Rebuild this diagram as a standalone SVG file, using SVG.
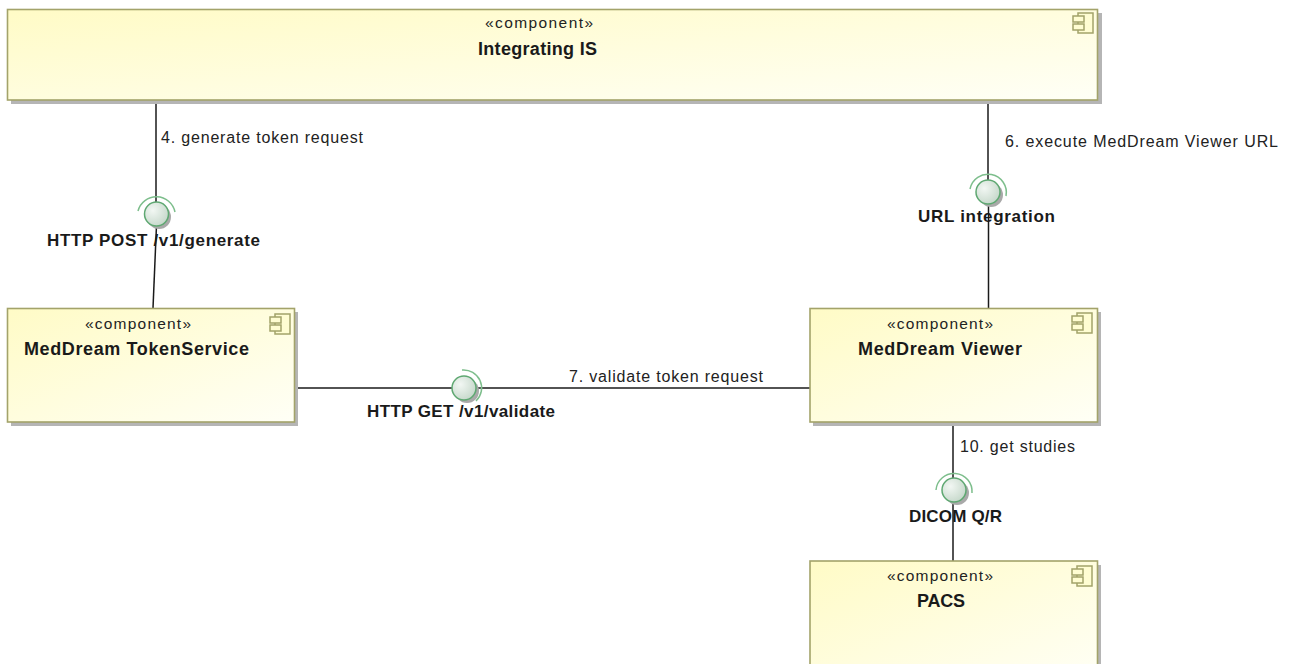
<svg xmlns="http://www.w3.org/2000/svg" xmlns:xlink="http://www.w3.org/1999/xlink" width="1294" height="664" viewBox="0 0 1294 664">
<defs>
  <linearGradient id="boxFill" x1="0" y1="0" x2="1" y2="1">
    <stop offset="0" stop-color="#FFFBC6"/>
    <stop offset="1" stop-color="#FFFFF6"/>
  </linearGradient>
  <radialGradient id="ballFill" cx="0.35" cy="0.35" r="0.75">
    <stop offset="0" stop-color="#F2F7F3"/>
    <stop offset="1" stop-color="#C3D6C8"/>
  </radialGradient>
  <g id="compIcon">
    <rect x="5" y="0" width="15" height="20" fill="#FFFDD2" stroke="#A3A36A" stroke-width="1.5"/>
    <rect x="0" y="3" width="11" height="6" fill="#FFFDD2" stroke="#A3A36A" stroke-width="1.5"/>
    <rect x="0" y="11" width="11" height="6" fill="#FFFDD2" stroke="#A3A36A" stroke-width="1.5"/>
  </g>
  <style>
    .shadow { fill: #B5B5B5; }
    .box { fill: url(#boxFill); stroke: #A3A36A; stroke-width: 1.6; }
    .stereo { font-family: "Liberation Sans", Arial, sans-serif; font-size: 15.5px; fill: #222; }
    .name { font-family: "Liberation Sans", Arial, sans-serif; font-size: 18px; font-weight: bold; fill: #1a1a1a; }
    .lbl { font-family: "Liberation Sans", Arial, sans-serif; font-size: 16px; fill: #222; }
    .blbl { font-family: "Liberation Sans", Arial, sans-serif; font-size: 17px; font-weight: bold; fill: #1a1a1a; }
    .conn { stroke: #1a1a1a; stroke-width: 1.5; fill: none; }
    .ballShadow { fill: #A9A9A9; }
    .ball { fill: url(#ballFill); stroke: #5FA872; stroke-width: 1.5; }
    .socket { fill: none; stroke: #7DBE8C; stroke-width: 1.5; }
  </style>
</defs>
<rect x="0" y="0" width="1294" height="664" fill="#FFFFFF"/>

<g id="connectors">
  <line class="conn" x1="156" y1="100" x2="156" y2="202"/>
  <line class="conn" x1="156.5" y1="225" x2="153" y2="308"/>
  <line class="conn" x1="988" y1="100" x2="988" y2="180"/>
  <line class="conn" x1="988.5" y1="203" x2="988.5" y2="308"/>
  <line class="conn" x1="294" y1="388" x2="452" y2="388"/>
  <line class="conn" x1="476" y1="388" x2="810" y2="388"/>
  <line class="conn" x1="953" y1="422" x2="953" y2="478"/>
  <line class="conn" x1="953" y1="502" x2="953" y2="561"/>
  <text class="lbl" x="161" y="143" textLength="202" lengthAdjust="spacing">4. generate token request</text>
  <text class="lbl" x="1005" y="147" textLength="273" lengthAdjust="spacing">6. execute MedDream Viewer URL</text>
  <text class="lbl" x="569" y="382" textLength="194" lengthAdjust="spacing">7. validate token request</text>
  <text class="lbl" x="960" y="452" textLength="115" lengthAdjust="spacing">10. get studies</text>
</g>

<g id="iface-http-post">
  <circle class="ballShadow" cx="159" cy="217" r="12"/>
  <circle class="ball" cx="156.5" cy="214" r="12"/>
  <path class="socket" d="M 138 211 A 19 19 0 0 1 175 212"/>
  <text class="blbl" x="47" y="246" textLength="213" lengthAdjust="spacing">HTTP POST /v1/generate</text>
</g>

<g id="iface-url">
  <circle class="ballShadow" cx="991" cy="195" r="12"/>
  <circle class="ball" cx="988" cy="192" r="12"/>
  <path class="socket" d="M 970 189 A 18 18 0 0 1 1006 196"/>
  <text class="blbl" x="918" y="222" textLength="137" lengthAdjust="spacing">URL integration</text>
</g>

<g id="iface-http-get">
  <circle class="ballShadow" cx="467" cy="391" r="12"/>
  <circle class="ball" cx="464" cy="388" r="12"/>
  <path class="socket" d="M 462 370 A 18 18 0 0 1 476 401"/>
  <text class="blbl" x="367" y="417" textLength="188" lengthAdjust="spacing">HTTP GET /v1/validate</text>
</g>

<g id="iface-dicom">
  <circle class="ballShadow" cx="957" cy="493" r="12"/>
  <circle class="ball" cx="954" cy="490" r="12"/>
  <path class="socket" d="M 936 490 A 18 18 0 0 1 972 493"/>
  <text class="blbl" x="909" y="522" textLength="93" lengthAdjust="spacing">DICOM Q/R</text>
</g>

<g id="node-integrating-is">
  <rect class="shadow" x="11" y="13" width="1091" height="91"/>
  <rect class="box" x="7.5" y="9.5" width="1090" height="90.5"/>
  <use xlink:href="#compIcon" x="1073" y="13"/>
  <text class="stereo" x="485" y="28" textLength="108" lengthAdjust="spacing">«component»</text>
  <text class="name" x="478" y="55" textLength="119" lengthAdjust="spacing">Integrating IS</text>
</g>

<g id="node-tokenservice">
  <rect class="shadow" x="11" y="312" width="287" height="114"/>
  <rect class="box" x="7.5" y="308.5" width="287" height="113.5"/>
  <use xlink:href="#compIcon" x="270" y="314"/>
  <text class="stereo" x="85" y="329" textLength="106" lengthAdjust="spacing">«component»</text>
  <text class="name" x="24" y="355" textLength="225" lengthAdjust="spacing">MedDream TokenService</text>
</g>

<g id="node-viewer">
  <rect class="shadow" x="813" y="312" width="288" height="114"/>
  <rect class="box" x="810" y="308.5" width="287.5" height="113.5"/>
  <use xlink:href="#compIcon" x="1072" y="313"/>
  <text class="stereo" x="887" y="329" textLength="106" lengthAdjust="spacing">«component»</text>
  <text class="name" x="858" y="355" textLength="164" lengthAdjust="spacing">MedDream Viewer</text>
</g>

<g id="node-pacs">
  <rect class="shadow" x="813" y="565" width="288" height="120"/>
  <rect class="box" x="810" y="561" width="287.5" height="120"/>
  <use xlink:href="#compIcon" x="1072" y="566"/>
  <text class="stereo" x="887" y="581" textLength="106" lengthAdjust="spacing">«component»</text>
  <text class="name" x="917" y="607" textLength="48" lengthAdjust="spacing">PACS</text>
</g>
</svg>
